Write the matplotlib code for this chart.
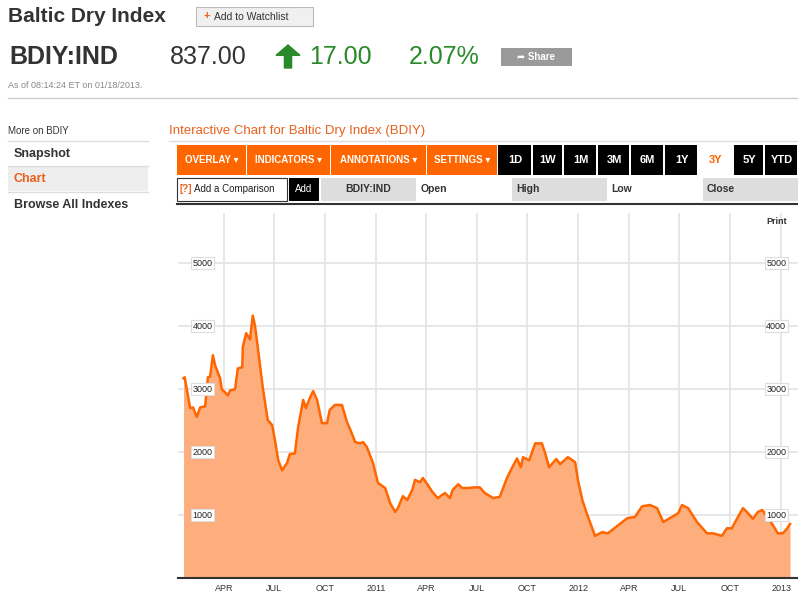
import matplotlib
matplotlib.use("Agg")
import matplotlib.pyplot as plt
from matplotlib.patches import Rectangle, FancyArrow
import numpy as np

W, H = 798, 592
FAM = ["Liberation Sans", "DejaVu Sans"]
# data: days since 2010-01-18, BDI value
days = [0,2,12,17,24,30,39,44,48,53,57,66,69,75,80,84,93,98,106,107,113,120,125,129,134,143,152,160,165,171,178,187,192,201,207,216,221,228,234,241,250,259,264,273,282,286,295,300,310,319,324,331,342,351,364,373,382,387,396,404,413,418,427,432,441,449,459,472,481,486,496,503,514,526,535,544,559,571,584,593,602,609,613,624,635,647,653,660,673,680,694,707,712,720,729,743,756,766,785,801,815,828,842,855,866,882,893,900,911,927,945,956,972,981,990,996,1010,1017,1028,1037,1045,1062,1073,1082,1090,1095]
vals = [3175,3190,2700,2710,2560,2710,2730,3190,3200,3540,3380,3175,3000,2950,2900,2980,3000,3330,3350,3670,3890,3790,4170,4010,3670,3030,2510,2430,2190,1870,1710,1830,1970,1980,2400,2830,2700,2860,2970,2830,2460,2460,2670,2750,2750,2750,2480,2380,2160,2140,2160,2080,1830,1510,1430,1190,1050,1110,1300,1240,1400,1560,1520,1590,1480,1370,1270,1350,1270,1400,1490,1430,1430,1440,1440,1350,1270,1290,1590,1750,1900,1760,1920,1870,2140,2140,1980,1760,1890,1810,1920,1840,1560,1240,1000,670,730,710,840,950,970,1140,1160,1110,890,970,1030,1160,1110,890,710,710,670,790,790,890,1110,1050,940,1050,1080,870,710,710,790,860]
tick_labels = ["APR","JUL","OCT","2011","APR","JUL","OCT","2012","APR","JUL","OCT","2013"]
tick_days = [73,164,256,348,438,529,621,713,804,895,987,1079]
y_ticks = [1000,2000,3000,4000,5000]

fig = plt.figure(figsize=(W/100, H/100), dpi=100)
fig.patch.set_facecolor("white")

def fx(x): return x / W
def fy(y): return 1 - y / H
def rect(x0, y0, x1, y1, fc, ec="none", lw=0.8):
    fig.patches.append(Rectangle((fx(x0), fy(y1)), fx(x1 - x0), (y1 - y0) / H,
                                 transform=fig.transFigure, fc=fc, ec=ec, lw=lw, zorder=1))
def txt(x, y, s, size=9, color="#222222", weight="normal", ha="left", va="center"):
    fig.text(fx(x), fy(y), s, fontsize=size, color=color, weight=weight, ha=ha, va=va,
             family=FAM, zorder=5)
def hline(y, x0, x1, color="#cccccc", lw=1):
    fig.add_artist(plt.Line2D([fx(x0), fx(x1)], [fy(y), fy(y)], color=color, lw=lw, transform=fig.transFigure))

# header
txt(8, 16, "Baltic Dry Index", 15, "#333333", "bold")
rect(196, 7, 313, 26, "#f0f0f0", "#bbbbbb")
txt(203, 16.5, "+", 8, "#e8601c", "bold")
txt(214, 16.5, "Add to Watchlist", 7.5, "#333333")
txt(9, 57, "BDIY:IND", 18, "#333333", "bold")
txt(170, 57, "837.00", 18, "#333333")
fig.patches.append(FancyArrow(fx(288), fy(68), 0, (68-45)/H*0.55, width=0.009, head_width=0.03,
                              head_length=(68-45)/H*0.45, transform=fig.transFigure, color="#2a8a2a", zorder=3))
txt(309, 57, "17.00", 18, "#2a8a2a")
txt(409, 57, "2.07%", 18, "#2a8a2a")
rect(501, 48, 572, 66, "#9a9a9a")
txt(536, 57, "\u27a6 Share", 7, "white", "bold", ha="center")
txt(8, 85, "As of 08:14:24 ET on 01/18/2013.", 6.5, "#888888")
hline(98, 8, 798, "#cccccc")

# left nav
txt(8, 131, "More on BDIY", 7, "#333333")
hline(141, 8, 148, "#dddddd")
txt(14, 154, "Snapshot", 9, "#333333", "bold")
hline(166, 8, 148, "#dddddd")
rect(8, 167, 148, 191, "#eeeeee")
txt(13, 179, "Chart", 9, "#e8601c", "bold")
hline(192, 8, 148, "#dddddd")
txt(14, 205, "Browse All Indexes", 9, "#333333", "bold")

# chart title and toolbar
txt(169, 131, "Interactive Chart for Baltic Dry Index (BDIY)", 9.5, "#e8601c")
hline(141, 169, 798, "#dddddd")
orange = [("OVERLAY \u25be", 177, 246), ("INDICATORS \u25be", 247, 330),
          ("ANNOTATIONS \u25be", 331, 426), ("SETTINGS \u25be", 427, 497)]
for s, a, b in orange:
    rect(a, 145, b, 175, "#ff6600")
    txt((a + b) / 2, 160, s, 7, "white", "bold", ha="center")
black = [("1D", 498, 532), ("1W", 533, 563), ("1M", 564, 597), ("3M", 598, 630), ("6M", 631, 664),
         ("1Y", 665, 698), ("3Y", 699, 733), ("5Y", 734, 764), ("YTD", 765, 798)]
for s, a, b in black:
    if s == "3Y":
        txt((a + b) / 2, 160, s, 8, "#ff6600", "bold", ha="center")
    else:
        rect(a, 145, b - 1, 175, "#000000")
        txt((a + b) / 2, 160, s, 8, "white", "bold", ha="center")
rect(177, 178, 287, 201, "white", "#333333")
txt(180, 189, "[?]", 7, "#e8601c", "bold")
txt(194, 189, "Add a Comparison", 7, "#222222")
rect(289, 178, 319, 201, "#000000")
txt(304, 189, "Add", 7, "white", ha="center")
rect(321, 178, 416, 201, "#dddddd")
txt(368, 189, "BDIY:IND", 7.5, "#333333", "bold", ha="center")
txt(421, 189, "Open", 7.5, "#333333", "bold")
rect(512, 178, 607, 201, "#dddddd")
txt(516, 189, "High", 7.5, "#333333", "bold")
txt(611, 189, "Low", 7.5, "#333333", "bold")
rect(703, 178, 798, 201, "#dddddd")
txt(707, 189, "Close", 7.5, "#333333", "bold")
hline(204, 177, 798, "#333333", 1.5)
txt(766, 222, "Print", 6.5, "#333333", "bold")

# chart axes
x0, x1, yt, yb = 178, 800, 213, 578
ax = fig.add_axes([fx(x0), fy(yb), fx(x1 - x0), (yb - yt) / H])
ax.set_xlim(-10, 1113)
ax.set_ylim(0, 5800)
ax.fill_between(days, vals, 0, color="#fdae7c", lw=0, zorder=2)
ax.plot(days, vals, color="#ff6600", lw=1.8, zorder=3)
for d in tick_days:
    ax.axvline(d, color="#e3e3e3", lw=1.2, zorder=1)
for v in y_ticks:
    ax.axhline(v, color="#e3e3e3", lw=1.2, zorder=1)
    for xl in (16, 1052):
        ax.text(xl, v, str(v), fontsize=6.5, family=FAM, color="#222222", va="center", ha="left",
                bbox=dict(fc="white", ec="#dddddd", lw=0.8, pad=1.2), zorder=4)
ax.set_xticks(tick_days)
ax.set_xticklabels(tick_labels, fontsize=6.5, family=FAM, color="#333333")
ax.tick_params(axis="x", length=0, pad=4)
ax.set_yticks([])
for s in ("top", "left", "right"):
    ax.spines[s].set_visible(False)
ax.spines["bottom"].set_color("#333333")
ax.spines["bottom"].set_linewidth(1.5)

fig.savefig("out.png", dpi=100)
